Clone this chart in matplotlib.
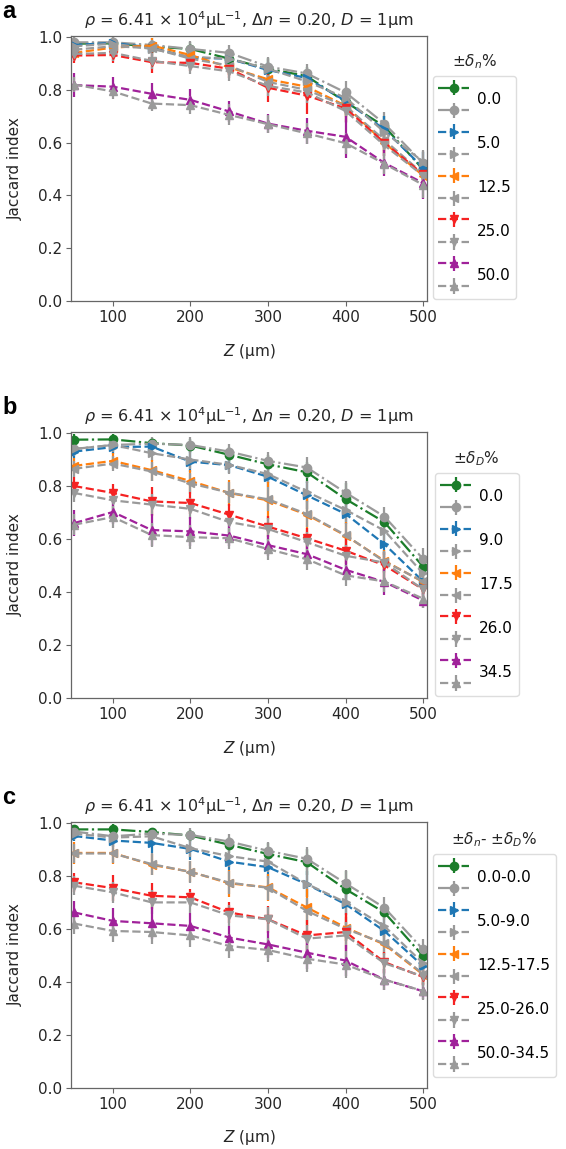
import matplotlib
matplotlib.use("Agg")
import matplotlib.pyplot as plt
from matplotlib.legend_handler import HandlerBase
from matplotlib.offsetbox import VPacker, DrawingArea

plt.rcParams['font.family'] = ['DejaVu Sans']
plt.rcParams['mathtext.fontset'] = 'dejavusans'

# ---------------- data ----------------
Z = [50, 100, 150, 200, 250, 300, 350, 400, 450, 500]

# panel a : +-delta_n %
A_LABELS = ['0.0', '5.0', '12.5', '25.0', '50.0']
A_COLOR = [
    [0.975, 0.976, 0.964, 0.955, 0.918, 0.880, 0.852, 0.754, 0.662, 0.498],
    [0.970, 0.978, 0.960, 0.922, 0.918, 0.875, 0.845, 0.758, 0.650, 0.505],
    [0.940, 0.960, 0.968, 0.932, 0.885, 0.840, 0.812, 0.740, 0.600, 0.475],
    [0.930, 0.932, 0.905, 0.902, 0.880, 0.808, 0.778, 0.730, 0.600, 0.480],
    [0.818, 0.812, 0.785, 0.762, 0.718, 0.672, 0.645, 0.622, 0.523, 0.447],
]
A_GRAY = [
    [0.980, 0.980, 0.970, 0.955, 0.940, 0.888, 0.862, 0.790, 0.672, 0.522],
    [0.965, 0.975, 0.955, 0.925, 0.918, 0.880, 0.832, 0.770, 0.640, 0.528],
    [0.952, 0.965, 0.958, 0.918, 0.892, 0.830, 0.800, 0.738, 0.610, 0.482],
    [0.936, 0.940, 0.910, 0.890, 0.870, 0.815, 0.790, 0.720, 0.590, 0.475],
    [0.820, 0.794, 0.748, 0.742, 0.705, 0.670, 0.635, 0.598, 0.520, 0.440],
]
A_COLOR_ERR = [
    [0.02, 0.02, 0.02, 0.025, 0.03, 0.04, 0.035, 0.05, 0.04, 0.04],
    [0.02, 0.02, 0.02, 0.02, 0.02, 0.03, 0.03, 0.04, 0.05, 0.06],
    [0.02, 0.02, 0.03, 0.03, 0.03, 0.03, 0.03, 0.04, 0.04, 0.04],
    [0.03, 0.03, 0.04, 0.03, 0.035, 0.055, 0.07, 0.05, 0.05, 0.04],
    [0.045, 0.035, 0.04, 0.04, 0.04, 0.035, 0.05, 0.08, 0.05, 0.06],
]
A_GRAY_ERR = [
    [0.02, 0.02, 0.025, 0.03, 0.03, 0.035, 0.035, 0.045, 0.045, 0.05],
    [0.02, 0.025, 0.03, 0.03, 0.035, 0.035, 0.035, 0.04, 0.04, 0.04],
    [0.02, 0.025, 0.03, 0.03, 0.035, 0.035, 0.035, 0.04, 0.04, 0.04],
    [0.025, 0.03, 0.03, 0.03, 0.035, 0.04, 0.04, 0.045, 0.04, 0.04],
    [0.03, 0.03, 0.03, 0.035, 0.04, 0.035, 0.04, 0.04, 0.04, 0.05],
]

# panel b : +-delta_D %
B_LABELS = ['0.0', '9.0', '17.5', '26.0', '34.5']
B_COLOR = [
    [0.975, 0.976, 0.962, 0.953, 0.918, 0.882, 0.852, 0.751, 0.664, 0.496],
    [0.930, 0.947, 0.949, 0.892, 0.879, 0.835, 0.765, 0.695, 0.581, 0.440],
    [0.876, 0.895, 0.860, 0.819, 0.774, 0.746, 0.692, 0.613, 0.518, 0.438],
    [0.800, 0.774, 0.742, 0.736, 0.692, 0.647, 0.603, 0.556, 0.501, 0.410],
    [0.660, 0.702, 0.634, 0.629, 0.613, 0.577, 0.543, 0.484, 0.438, 0.368],
]
B_GRAY = [
    [0.940, 0.955, 0.960, 0.955, 0.930, 0.895, 0.870, 0.775, 0.685, 0.525],
    [0.940, 0.955, 0.924, 0.900, 0.880, 0.845, 0.778, 0.710, 0.632, 0.470],
    [0.865, 0.885, 0.855, 0.810, 0.775, 0.750, 0.695, 0.615, 0.515, 0.440],
    [0.774, 0.746, 0.730, 0.714, 0.664, 0.638, 0.588, 0.537, 0.511, 0.410],
    [0.654, 0.683, 0.615, 0.607, 0.603, 0.562, 0.524, 0.463, 0.440, 0.375],
]
B_COLOR_ERR = [
    [0.02, 0.02, 0.02, 0.025, 0.03, 0.035, 0.04, 0.06, 0.03, 0.03],
    [0.025, 0.025, 0.03, 0.04, 0.03, 0.04, 0.05, 0.04, 0.04, 0.05],
    [0.03, 0.03, 0.04, 0.04, 0.05, 0.07, 0.07, 0.05, 0.04, 0.04],
    [0.035, 0.035, 0.055, 0.04, 0.04, 0.04, 0.04, 0.05, 0.05, 0.03],
    [0.05, 0.045, 0.06, 0.055, 0.04, 0.04, 0.04, 0.04, 0.05, 0.03],
]
B_GRAY_ERR = [
    [0.02, 0.02, 0.025, 0.03, 0.03, 0.035, 0.04, 0.045, 0.035, 0.04],
    [0.025, 0.025, 0.03, 0.035, 0.035, 0.035, 0.04, 0.045, 0.04, 0.04],
    [0.03, 0.03, 0.035, 0.04, 0.04, 0.045, 0.05, 0.045, 0.04, 0.04],
    [0.035, 0.035, 0.04, 0.04, 0.04, 0.04, 0.04, 0.04, 0.04, 0.035],
    [0.04, 0.04, 0.045, 0.045, 0.04, 0.04, 0.04, 0.04, 0.04, 0.035],
]

# panel c : +-delta_n - +-delta_D %
C_LABELS = ['0.0-0.0', '5.0-9.0', '12.5-17.5', '25.0-26.0', '50.0-34.5']
C_COLOR = [
    [0.976, 0.976, 0.966, 0.953, 0.918, 0.883, 0.852, 0.750, 0.662, 0.497],
    [0.951, 0.934, 0.925, 0.902, 0.854, 0.833, 0.769, 0.693, 0.592, 0.459],
    [0.887, 0.887, 0.842, 0.816, 0.772, 0.757, 0.681, 0.605, 0.541, 0.427],
    [0.776, 0.754, 0.725, 0.719, 0.662, 0.636, 0.575, 0.588, 0.474, 0.418],
    [0.662, 0.630, 0.621, 0.611, 0.567, 0.541, 0.510, 0.480, 0.408, 0.364],
]
C_GRAY = [
    [0.968, 0.950, 0.960, 0.955, 0.930, 0.895, 0.865, 0.772, 0.680, 0.522],
    [0.960, 0.945, 0.950, 0.905, 0.875, 0.854, 0.770, 0.700, 0.610, 0.470],
    [0.885, 0.885, 0.845, 0.815, 0.775, 0.755, 0.668, 0.600, 0.545, 0.430],
    [0.763, 0.738, 0.700, 0.700, 0.651, 0.636, 0.563, 0.575, 0.470, 0.420],
    [0.620, 0.592, 0.588, 0.575, 0.535, 0.520, 0.487, 0.465, 0.408, 0.365],
]
C_COLOR_ERR = [
    [0.015, 0.02, 0.015, 0.02, 0.03, 0.04, 0.05, 0.07, 0.03, 0.03],
    [0.02, 0.025, 0.04, 0.04, 0.03, 0.04, 0.05, 0.04, 0.04, 0.04],
    [0.04, 0.04, 0.04, 0.04, 0.05, 0.05, 0.07, 0.05, 0.04, 0.04],
    [0.035, 0.05, 0.05, 0.03, 0.04, 0.05, 0.06, 0.07, 0.04, 0.03],
    [0.045, 0.05, 0.06, 0.05, 0.045, 0.05, 0.06, 0.06, 0.04, 0.03],
]
C_GRAY_ERR = [
    [0.02, 0.02, 0.02, 0.025, 0.03, 0.035, 0.045, 0.05, 0.04, 0.04],
    [0.025, 0.025, 0.03, 0.035, 0.04, 0.04, 0.05, 0.045, 0.04, 0.04],
    [0.035, 0.035, 0.04, 0.04, 0.045, 0.045, 0.05, 0.045, 0.04, 0.04],
    [0.035, 0.04, 0.045, 0.04, 0.04, 0.045, 0.05, 0.05, 0.04, 0.035],
    [0.04, 0.04, 0.045, 0.045, 0.045, 0.045, 0.05, 0.05, 0.04, 0.035],
]

# ---------------- style ----------------
COLORS = ['#1b7d2a', '#1f77b4', '#ff7f0e', '#f52222', '#a0219a']
GRAY = '#9a9a9a'
MARKERS = ['o', '>', '<', 'v', '^']
STYLES = ['-.', '--', '--', '--', '--']
FS = 11


class HandlerPair(HandlerBase):
    """Stack the two handles of a tuple vertically around the label centre."""
    def create_artists(self, legend, orig_handle, xdescent, ydescent,
                       width, height, fontsize, trans):
        hmap = legend.get_legend_handler_map()
        d = 0.74 * fontsize
        out = []
        for i, h in enumerate(orig_handle):
            handler = legend.get_legend_handler(hmap, h)
            off = d if i == 0 else -d
            out.extend(handler.create_artists(legend, h, xdescent, ydescent - 2 * off,
                                              width, height, fontsize, trans))
        return out


fig = plt.figure(figsize=(5.66, 11.49), dpi=100)
W, H = 566.0, 1149.0

panels = [
    ('a', 36, 301, A_COLOR, A_GRAY, A_COLOR_ERR, A_GRAY_ERR, A_LABELS,
     r'$\pm\delta_n$%', (433, 76)),
    ('b', 432, 698, B_COLOR, B_GRAY, B_COLOR_ERR, B_GRAY_ERR, B_LABELS,
     r'$\pm\delta_D$%', (435, 473)),
    ('c', 822, 1087.5, C_COLOR, C_GRAY, C_COLOR_ERR, C_GRAY_ERR, C_LABELS,
     r'$\pm\delta_n$- $\pm\delta_D$%', (433, 854)),
]

title = r'$\rho$ = 6.41 × 10$^4$μL$^{-1}$, Δ$n$ = 0.20, $D$ = 1μm'

legends = []
for letter, top, bot, col, gry, cerr, gerr, labs, ltitle, lpos in panels:
    ax = fig.add_axes([71 / W, 1 - bot / H, (427 - 71) / W, (bot - top) / H])
    handles = []
    for k in range(5):
        hc = ax.errorbar(Z, col[k], yerr=cerr[k], color=COLORS[k], ls=STYLES[k],
                         marker=MARKERS[k], ms=6, lw=1.6, elinewidth=1.6, capsize=0)
        hg = ax.errorbar(Z, gry[k], yerr=gerr[k], color=GRAY, ls=STYLES[k],
                         marker=MARKERS[k], ms=6, lw=1.6, elinewidth=1.6, capsize=0)
        handles.append((hc, hg))
    ax.set_xlim(46, 505)
    ax.set_ylim(0, 1.004)
    ax.set_xticks([100, 200, 300, 400, 500])
    ax.set_yticks([0.0, 0.2, 0.4, 0.6, 0.8, 1.0])
    ax.set_yticklabels(['0.0', '0.2', '0.4', '0.6', '0.8', '1.0'])
    for s in ax.spines.values():
        s.set_color('#666666')
        s.set_linewidth(0.9)
    ax.tick_params(direction='out', length=3.5, width=0.8, color='#666666',
                   labelsize=FS, labelcolor='#262626', pad=3)
    ax.set_ylabel('Jaccard index', fontsize=FS, color='#262626', labelpad=11)
    ax.set_xlabel(r'$Z$ (μm)', fontsize=FS, color='#262626', labelpad=12)
    ax.set_title(title, fontsize=11.5, color='#262626', pad=7)
    fig.text(2 / W, 1 - (top - 25) / H, letter, fontsize=17, fontweight='bold',
             family='Liberation Sans', va='center', ha='left')
    x0 = (lpos[0] - 71) / (427 - 71)
    y0 = (bot - lpos[1]) / (bot - top)
    leg = ax.legend(handles, labs, handler_map={tuple: HandlerPair()},
                    loc='upper left', bbox_to_anchor=(x0, y0), borderaxespad=0,
                    fontsize=FS, handlelength=2.0, handleheight=0.7,
                    labelspacing=1.89, handletextpad=0.55, borderpad=0.35,
                    frameon=True, fancybox=True, framealpha=1, edgecolor='#dddddd')
    # extra vertical room above and below the entries (stacked handles overhang)
    try:
        hb = leg._legend_handle_box
        box = VPacker(pad=0, sep=0, align='left',
                      children=[DrawingArea(0, 8.0), hb, DrawingArea(0, 8.0)])
        leg._legend_box._children[1] = box
        leg._legend_box.set_figure(fig)
    except Exception:
        pass
    legends.append((leg, ltitle))

fig.canvas.draw()
for leg, ltitle in legends:
    bb = leg.get_frame().get_window_extent()
    cx = (bb.x0 + bb.x1) / 2 / fig.bbox.width
    ty = (bb.y1 + 14) / fig.bbox.height
    fig.text(cx, ty, ltitle, fontsize=FS, color='#262626', ha='center', va='center')

fig.savefig('out.png', dpi=100)
